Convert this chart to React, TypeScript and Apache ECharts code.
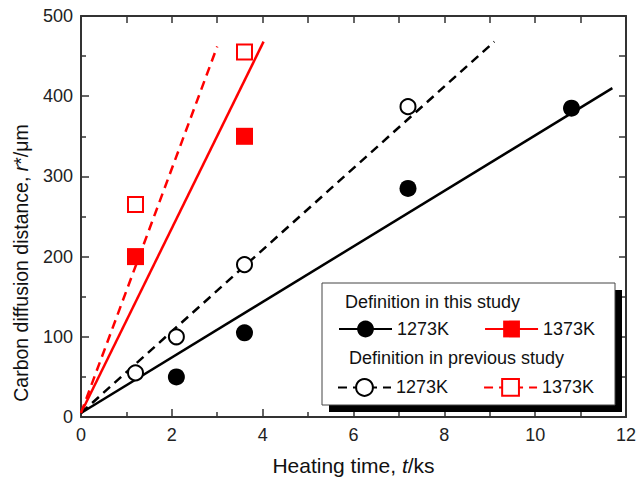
import React, { useEffect, useRef } from 'react';
import * as echarts from 'echarts';

// Measured points
const thisStudy1273: [number, number][] = [[2.1, 50], [3.6, 105], [7.2, 285], [10.8, 385]];
const thisStudy1373: [number, number][] = [[1.2, 200], [3.6, 350]];
const prevStudy1273: [number, number][] = [[1.2, 55], [2.1, 100], [3.6, 190], [7.2, 387]];
const prevStudy1373: [number, number][] = [[1.2, 265], [3.6, 455]];

// Fitted lines (start / end)
const fitThis1273: [number, number][] = [[0, 5], [11.7, 410]];
const fitThis1373: [number, number][] = [[0, 5], [4.02, 468]];
const fitPrev1273: [number, number][] = [[0, 5], [9.1, 468]];
const fitPrev1373: [number, number][] = [[0, 5], [3.0, 462]];

const legendRow1 = ['a1273', 'a1373'];
const legendRow2 = ['b1273', 'b1373'];
const legendHeaders = ['Definition in this study', 'Definition in previous study'];
const yTitle = 'Carbon diffusion distance, {i|r}*/μm';
const xTitle = 'Heating time, {i|t}/ks';

const FONT = '"Liberation Sans", Arial, Helvetica, sans-serif';
const AXIS_COLOR = '#333';
const RED = '#ff0000';
const BLACK = '#000000';

export default function App() {
  const ref = useRef<HTMLDivElement>(null);

  useEffect(() => {
    if (!ref.current) return;
    const chart = echarts.init(ref.current, undefined, { renderer: 'svg' });

    const lineSeries = (name: string, data: [number, number][], color: string, dashed: boolean, symbol: string) => ({
      type: 'line',
      name,
      data,
      symbol,
      showSymbol: false,
      color,
      lineStyle: { color, width: 2.5, type: dashed ? [9, 6] : 'solid' },
      itemStyle: { color },
      z: 2,
      silent: true,
    });

    const scatterSeries = (name: string, data: [number, number][], color: string, symbol: string, size: number) => ({
      type: 'scatter',
      name,
      data,
      symbol,
      symbolSize: size,
      itemStyle: { color, borderColor: color, borderWidth: symbol.startsWith('empty') ? 2 : 0, opacity: 1 },
      z: 3,
      silent: true,
    });

    const legendBase = {
      orient: 'horizontal',
      padding: 0,
      itemWidth: 53,
      itemHeight: 21,
      itemGap: 35,
      selectedMode: false,
      z: 20,
      formatter: (n: string) => n.slice(1) + 'K',
      textStyle: { fontSize: 18, color: '#111', fontFamily: FONT },
    };

    const option: any = {
      animation: false,
      backgroundColor: '#fff',
      textStyle: { fontFamily: FONT },
      grid: { left: 81, right: 9, top: 16, bottom: 62 },
      xAxis: [
        {
          type: 'value',
          min: 0,
          max: 12,
          interval: 2,
          position: 'bottom',
          axisLine: { show: true, onZero: false, lineStyle: { color: AXIS_COLOR, width: 2 } },
          axisTick: { show: true, inside: true, length: 8, lineStyle: { color: AXIS_COLOR, width: 1.5 } },
          minorTick: { show: true, splitNumber: 2, length: 5, lineStyle: { color: AXIS_COLOR, width: 1.5 } },
          splitLine: { show: false },
          axisLabel: { fontSize: 18, color: '#222', margin: 9, fontFamily: FONT },
          name: xTitle,
          nameLocation: 'middle',
          nameGap: 38,
          nameTextStyle: {
            fontSize: 21,
            color: '#111',
            fontFamily: FONT,
            rich: { i: { fontSize: 21, fontStyle: 'italic', color: '#111', fontFamily: FONT } },
          },
        },
        {
          type: 'value',
          min: 0,
          max: 12,
          interval: 1,
          position: 'top',
          axisLine: { show: true, onZero: false, lineStyle: { color: AXIS_COLOR, width: 2 } },
          axisTick: { show: true, inside: true, length: 7, lineStyle: { color: AXIS_COLOR, width: 1.5 } },
          axisLabel: { show: false },
          splitLine: { show: false },
        },
      ],
      yAxis: [
        {
          type: 'value',
          min: 0,
          max: 500,
          interval: 100,
          position: 'left',
          axisLine: { show: true, onZero: false, lineStyle: { color: AXIS_COLOR, width: 2 } },
          axisTick: { show: true, inside: true, length: 8, lineStyle: { color: AXIS_COLOR, width: 1.5 } },
          minorTick: { show: true, splitNumber: 2, length: 5, lineStyle: { color: AXIS_COLOR, width: 1.5 } },
          splitLine: { show: false },
          axisLabel: { fontSize: 18, color: '#222', margin: 8, fontFamily: FONT },
        },
        {
          type: 'value',
          min: 0,
          max: 500,
          interval: 50,
          position: 'right',
          axisLine: { show: true, onZero: false, lineStyle: { color: AXIS_COLOR, width: 2 } },
          axisTick: { show: true, inside: true, length: 7, lineStyle: { color: AXIS_COLOR, width: 1.5 } },
          axisLabel: { show: false },
          splitLine: { show: false },
        },
      ],
      legend: [
        { ...legendBase, data: legendRow1, left: 338, top: 320 },
        { ...legendBase, data: legendRow2, left: 337, top: 378 },
      ],
      graphic: [
        {
          type: 'text',
          z: 5,
          x: 21,
          y: 263,
          rotation: Math.PI / 2,
          style: {
            text: yTitle,
            fontSize: 19.5,
            fill: '#111',
            fontFamily: FONT,
            align: 'center',
            verticalAlign: 'middle',
            rich: { i: { fontSize: 19.5, fontStyle: 'italic', fill: '#111', fontFamily: FONT } },
          },
          silent: true,
        },
        {
          type: 'rect',
          z: 10,
          shape: { x: 329, y: 290, width: 293, height: 122 },
          style: { fill: '#000' },
          silent: true,
        },
        {
          type: 'rect',
          z: 11,
          shape: { x: 322, y: 283, width: 293, height: 122 },
          style: { fill: '#fff', stroke: '#444', lineWidth: 1 },
          silent: true,
        },
        {
          type: 'text',
          z: 21,
          x: 345,
          y: 302,
          style: { text: legendHeaders[0], fontSize: 18, fill: '#111', fontFamily: FONT, verticalAlign: 'middle' },
          silent: true,
        },
        {
          type: 'text',
          z: 21,
          x: 349,
          y: 358,
          style: { text: legendHeaders[1], fontSize: 18, fill: '#111', fontFamily: FONT, verticalAlign: 'middle' },
          silent: true,
        },
      ],
      series: [
        lineSeries('a1273', fitThis1273, BLACK, false, 'circle'),
        lineSeries('a1373', fitThis1373, RED, false, 'rect'),
        lineSeries('b1273', fitPrev1273, BLACK, true, 'emptyCircle'),
        lineSeries('b1373', fitPrev1373, RED, true, 'emptyRect'),
        scatterSeries('pa1273', thisStudy1273, BLACK, 'circle', 17),
        scatterSeries('pa1373', thisStudy1373, RED, 'rect', 17),
        scatterSeries('pb1273', prevStudy1273, BLACK, 'emptyCircle', 15),
        scatterSeries('pb1373', prevStudy1373, RED, 'emptyRect', 15),
      ],
    };

    chart.setOption(option);
    return () => chart.dispose();
  }, []);

  return (
    <div
      ref={ref}
      style={{ position: 'absolute', left: 0, top: 0, width: 639, height: 481, background: '#fff' }}
    />
  );
}
